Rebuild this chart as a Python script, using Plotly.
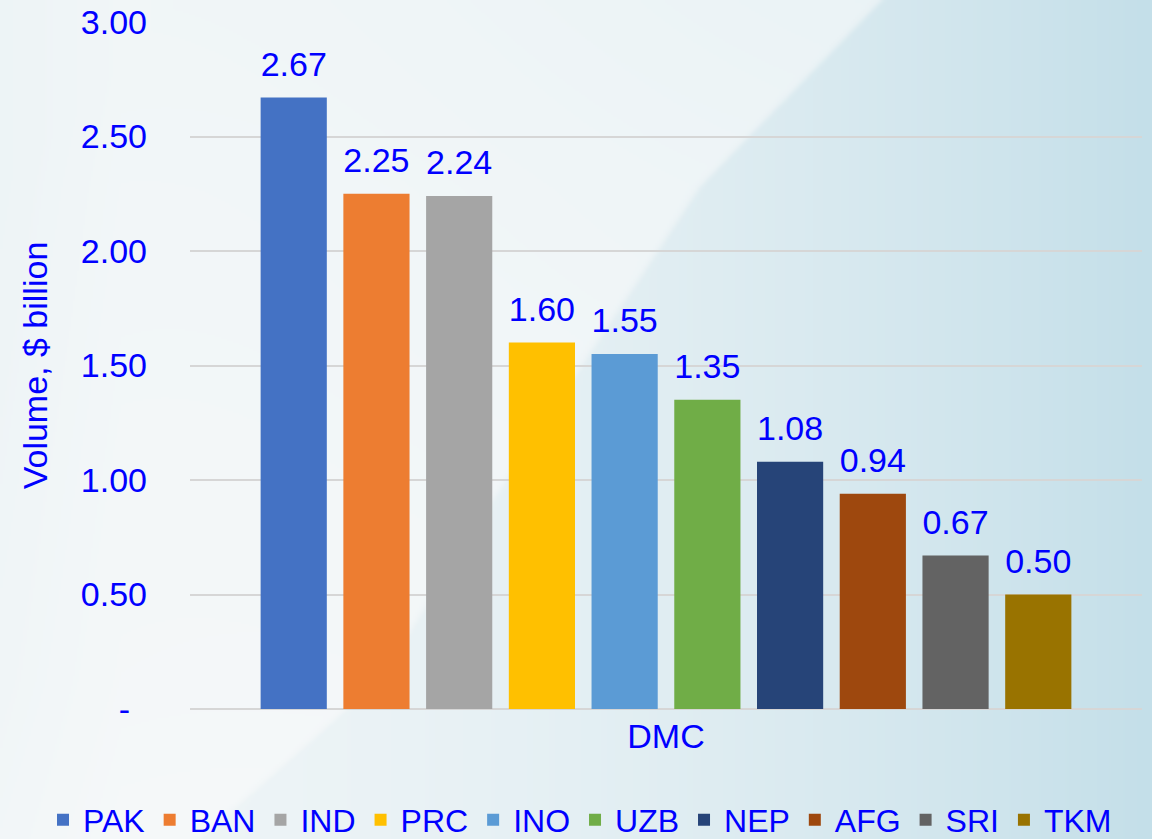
import base64
import struct
import zlib

import numpy as np
import plotly.graph_objects as go

# ---------------- data ----------------
countries = ["PAK", "BAN", "IND", "PRC", "INO", "UZB", "NEP", "AFG", "SRI", "TKM"]
volumes = [2.67, 2.25, 2.24, 1.60, 1.55, 1.35, 1.08, 0.94, 0.67, 0.50]
bar_colors = ["#4472C4", "#ED7D31", "#A5A5A5", "#FFC000", "#5B9BD5",
              "#70AD47", "#264478", "#9E480E", "#636363", "#997300"]
category = "DMC"
y_tickvals = [0, 0.5, 1.0, 1.5, 2.0, 2.5, 3.0]
y_ticktext = ["-\u2002", "0.50", "1.00", "1.50", "2.00", "2.50", "3.00"]
y_title = "Volume, $ billion"

# ---------------- layout constants ----------------
W, H = 1152, 839
ML, MR, MT, MB = 190, 10, 22, 130
PW, PH = W - ML - MR, H - MT - MB
BLUE = "#0000FF"
FONT = "Liberation Sans, Arial, sans-serif"
BARGAP = 0.131
BARGROUPGAP = 0.2


# ---------------- background image (decorative gradient) ----------------
def make_background(w=576, h=420):
    sx, sy = W / w, H / h
    xs = (np.arange(w) + 0.5) * sx
    ys = (np.arange(h) + 0.5) * sy
    X, Y = np.meshgrid(xs, ys)
    t = (X / W) ** 2
    left = np.array([239.0, 245.0, 247.0])
    right = np.array([196.0, 223.0, 233.0])
    img = left[None, None, :] + (right - left)[None, None, :] * t[..., None]
    edge = np.clip(1 - X / 120.0, 0, 1) * 5
    img = img - edge[..., None] * np.array([1.0, 0.6, 0.4])
    by = np.array([0, 187, 520, 680, 839])
    bx = np.array([882, 700, 480, 380, 200])
    boundary = np.interp(Y, by, bx)
    d = boundary - X
    soft = 1 / (1 + np.exp(-d / 2.0))
    strength = 0.55 - 0.35 * np.clip(d / 700.0, 0, 1)
    a = soft * strength
    img = img * (1 - a[..., None]) + 252.0 * a[..., None]
    arr = np.clip(img, 0, 255).astype(np.uint8)

    raw = b"".join(b"\x00" + arr[i].tobytes() for i in range(h))

    def chunk(tag, data):
        c = struct.pack(">I", len(data)) + tag + data
        return c + struct.pack(">I", zlib.crc32(tag + data) & 0xFFFFFFFF)

    png = (b"\x89PNG\r\n\x1a\n"
           + chunk(b"IHDR", struct.pack(">IIBBBBB", w, h, 8, 2, 0, 0, 0))
           + chunk(b"IDAT", zlib.compress(raw, 9))
           + chunk(b"IEND", b""))
    return "data:image/png;base64," + base64.b64encode(png).decode()


fig = go.Figure()

for name, v, c in zip(countries, volumes, bar_colors):
    fig.add_trace(go.Bar(
        x=[category], y=[v], name=name, offsetgroup=name,
        marker=dict(color=c, line=dict(width=0)),
        hoverinfo="name+y",
    ))

for name, v in zip(countries, volumes):
    fig.add_trace(go.Scatter(
        x=[category], y=[v], mode="markers+text", offsetgroup=name,
        text=[f"{v:.2f}"], textposition="top center",
        textfont=dict(size=34, color=BLUE, family=FONT),
        marker=dict(size=20, opacity=0),
        showlegend=False, hoverinfo="skip", cliponaxis=False,
    ))

fig.update_layout(
    width=W, height=H,
    margin=dict(l=ML, r=MR, t=MT, b=MB, autoexpand=False),
    paper_bgcolor="#eef4f6",
    plot_bgcolor="rgba(0,0,0,0)",
    barmode="group", bargap=BARGAP, bargroupgap=BARGROUPGAP,
    scattermode="group", scattergap=BARGAP,
    font=dict(family=FONT, color=BLUE, size=32),
    showlegend=True,
    legend=dict(
        orientation="h", xref="paper", yref="paper",
        x=(43 - ML) / PW, xanchor="left",
        y=-(820 - (MT + PH)) / PH, yanchor="middle",
        font=dict(size=32, color=BLUE, family=FONT),
        bgcolor="rgba(0,0,0,0)", traceorder="normal",
        itemclick=False, itemdoubleclick=False,
    ),
    xaxis=dict(
        type="category", showgrid=False, showline=False, zeroline=False,
        ticks="", tickfont=dict(size=34, color=BLUE, family=FONT),
        ticklabelstandoff=4, fixedrange=True,
    ),
    yaxis=dict(
        range=[0, 3], tickvals=y_tickvals, ticktext=y_ticktext,
        showgrid=True, gridcolor="#d6d6d6", gridwidth=1.5,
        zeroline=True, zerolinecolor="#d6d6d6", zerolinewidth=1.5,
        showline=False, ticks="", ticklabelstandoff=42,
        tickfont=dict(size=34, color=BLUE, family=FONT),
        title=dict(text=y_title, font=dict(size=34, color=BLUE, family=FONT),
                   standoff=22),
        fixedrange=True,
    ),
    images=[dict(
        source=make_background(), xref="paper", yref="paper",
        x=-ML / PW, y=1 + MT / PH, sizex=W / PW, sizey=H / PH,
        xanchor="left", yanchor="top", sizing="stretch", layer="below",
    )],
)

fig.write_html(
    "out.html",
    config={"displayModeBar": False},
    post_script="document.body.style.margin='0';document.body.style.overflow='hidden';",
)
